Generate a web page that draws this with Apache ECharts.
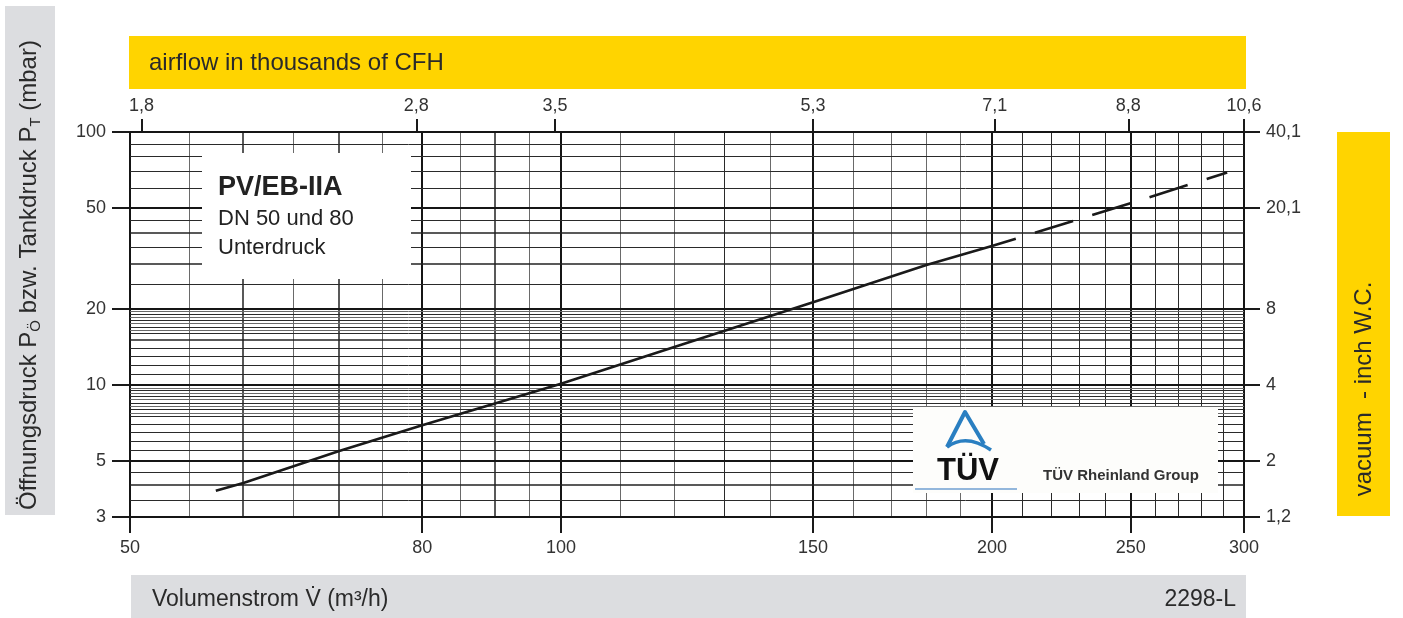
<!DOCTYPE html>
<html>
<head>
<meta charset="utf-8">
<title>PV/EB-IIA Unterdruck</title>
<script src="https://cdn.jsdelivr.net/npm/echarts@6.0.0/dist/echarts.min.js"></script>
<style>
    html, body { margin: 0; padding: 0; background: #fff; }
    #chart { width: 1403px; height: 618px; }
</style>
</head>
<body>
<div id="chart"></div>
<script>
// Kennlinie: Volumenstrom (m³/h) -> Öffnungsdruck (mbar)
var curveSolid = [[57.4, 3.81], [60, 4.09], [70, 5.47], [80, 6.92], [100, 10.1], [120, 14.1], [150, 21.2], [180, 29.8], [200, 35.4]];
var curveDashed = [[200, 35.4], [250, 52.3], [292, 69.2]];

// Achsbeschriftungen
var flowTicks = [50, 80, 100, 150, 200, 250, 300];
var pressureTicks = [3, 5, 10, 20, 50, 100];
var cfhTicks = [1.8, 2.8, 3.5, 5.3, 7.1, 8.8, 10.6];
var inchTicks = [1.2, 2, 4, 8, 20.1, 40.1];

// Raster (Logpapier)
var flowGrid = [50, 55, 60, 65, 70, 75, 80, 85, 90, 95, 100, 110, 120, 130, 140, 150, 160, 170, 180, 190,
    200, 210, 220, 230, 240, 250, 260, 270, 280, 290, 300];
var flowGridMid = [60, 70, 90];
var flowGridFine = [55, 65, 75, 85, 95, 110, 120, 140, 160, 170, 180, 190];
var pressureGrid = [3, 3.5, 4, 4.5, 5, 5.5, 6, 6.5, 7, 7.5, 7.75, 8, 8.25, 8.5, 8.75, 9, 9.25, 9.5, 9.75,
    10, 11, 12, 13, 14, 15, 16, 16.5, 17, 17.5, 18, 18.5, 19, 19.5, 20, 25, 30, 35, 40, 45, 50, 60, 70, 80, 90, 100];
var pressureGridMid = [4, 15, 30, 40];
var pressureGridFine = [7.75, 8.25, 8.75, 9.25, 9.75, 16.5, 17.5, 18.5, 19.5];

var FONT = '"Liberation Sans", Arial, Helvetica, sans-serif';
var INK = '#1a1a1a';

var myChart = echarts.init(document.getElementById('chart'));

function comma(v) {
    return String(Math.round(v * 10) / 10).replace('.', ',');
}

function lineWeight(v, major, mid, fine) {
    if (major.indexOf(v) >= 0) return {w: 2, c: '#151515'};
    if (mid.indexOf(v) >= 0) return {w: 1.5, c: '#222'};
    if (fine && fine.indexOf(v) >= 0) return {w: 1, c: '#6a6a6a'};
    return {w: 1, c: '#2a2a2a'};
}

function crisp(p, w) {
    return w % 2 === 1 ? Math.round(p) + 0.5 : Math.round(p);
}

function renderVertical(params, api) {
    var v = api.value(0);
    var a = api.coord([v, 3]);
    var b = api.coord([v, 100]);
    var s = lineWeight(v, flowTicks, flowGridMid, flowGridFine);
    var x = crisp(a[0], s.w);
    return {
        type: 'line',
        shape: {x1: x, y1: a[1], x2: x, y2: b[1]},
        style: {stroke: s.c, lineWidth: s.w}
    };
}

function renderHorizontal(params, api) {
    var p = api.value(1);
    var a = api.coord([50, p]);
    var b = api.coord([300, p]);
    var s = lineWeight(p, pressureTicks, pressureGridMid, pressureGridFine);
    var y = crisp(a[1], s.w);
    return {
        type: 'line',
        shape: {x1: a[0], y1: y, x2: b[0], y2: y},
        style: {stroke: s.c, lineWidth: s.w}
    };
}

function logAxis(o) {
    return {
        type: 'log',
        logBase: 10,
        min: o.min,
        max: o.max,
        position: o.position,
        axisLine: {show: true, onZero: false, lineStyle: {color: INK, width: 2}},
        axisTick: {show: true, customValues: o.ticks, length: o.tickLen, lineStyle: {color: INK, width: 2}},
        axisLabel: {
            customValues: o.ticks,
            margin: o.margin,
            fontSize: 18,
            fontFamily: FONT,
            color: '#333',
            formatter: comma
        },
        splitLine: {show: false},
        minorTick: {show: false},
        minorSplitLine: {show: false}
    };
}

var option = {
    backgroundColor: '#fff',
    animation: false,
    grid: {left: 130, right: 159, top: 132, bottom: 101, containLabel: false, outerBoundsMode: 'none'},
    xAxis: [
        logAxis({min: 50, max: 300, position: 'bottom', ticks: flowTicks, tickLen: 16, margin: 22}),
        logAxis({min: 10.6 / 6, max: 10.6, position: 'top', ticks: cfhTicks, tickLen: 13, margin: 17})
    ],
    yAxis: [
        logAxis({min: 3, max: 100, position: 'left', ticks: pressureTicks, tickLen: 18, margin: 24}),
        logAxis({min: 1.2, max: 40.1, position: 'right', ticks: inchTicks, tickLen: 16, margin: 22})
    ],
    series: [
        {
            type: 'custom',
            xAxisIndex: 0,
            yAxisIndex: 0,
            z: 1,
            silent: true,
            renderItem: renderVertical,
            data: flowGrid.map(function (v) { return [v, 3]; })
        },
        {
            type: 'custom',
            xAxisIndex: 0,
            yAxisIndex: 0,
            z: 1,
            silent: true,
            renderItem: renderHorizontal,
            data: pressureGrid.map(function (p) { return [50, p]; })
        },
        {
            name: 'PV/EB-IIA',
            type: 'line',
            xAxisIndex: 0,
            yAxisIndex: 0,
            z: 3,
            showSymbol: false,
            lineStyle: {color: INK, width: 2.6},
            data: curveSolid
        },
        {
            name: 'PV/EB-IIA (extrapoliert)',
            type: 'line',
            xAxisIndex: 0,
            yAxisIndex: 0,
            z: 3,
            showSymbol: false,
            lineStyle: {color: INK, width: 2.6, type: [40, 20], dashOffset: 15},
            data: curveDashed
        }
    ],
    graphic: [
        // linke Achsbeschriftung
        {type: 'rect', z: 10, silent: true, shape: {x: 5, y: 6, width: 50, height: 509}, style: {fill: '#dcdde0'}},
        {
            type: 'text', z: 11, silent: true, x: 29, y: 275, rotation: Math.PI / 2,
            style: {
                text: 'Öffnungsdruck P{s|Ö} bzw. Tankdruck P{s|T} (mbar)',
                font: '24px ' + FONT, fill: '#2a2a2a', align: 'center', verticalAlign: 'middle', lineHeight: 29,
                rich: {s: {fontSize: 15, fontFamily: FONT, fill: '#2a2a2a', lineHeight: 15, verticalAlign: 'bottom'}}
            }
        },
        // oben: CFH
        {type: 'rect', z: 10, silent: true, shape: {x: 129, y: 36, width: 1117, height: 53}, style: {fill: '#ffd400'}},
        {
            type: 'text', z: 11, silent: true, x: 149, y: 63,
            style: {text: 'airflow in thousands of CFH', font: '24px ' + FONT, fill: '#2a2a2a', verticalAlign: 'middle'}
        },
        // rechts: inch W.C.
        {type: 'rect', z: 10, silent: true, shape: {x: 1337, y: 132, width: 53, height: 384}, style: {fill: '#ffd400'}},
        {
            type: 'text', z: 11, silent: true, x: 1364, y: 389, rotation: Math.PI / 2,
            style: {text: 'vacuum  - inch W.C.', font: '24px ' + FONT, fill: '#2a2a2a', align: 'center', verticalAlign: 'middle'}
        },
        // unten: Volumenstrom
        {type: 'rect', z: 10, silent: true, shape: {x: 131, y: 575, width: 1115, height: 43}, style: {fill: '#dcdde0'}},
        {
            type: 'text', z: 11, silent: true, x: 152, y: 600,
            style: {text: 'Volumenstrom V\u0307 (m³/h)', font: '23px ' + FONT, fill: '#2a2a2a', verticalAlign: 'middle'}
        },
        {
            type: 'text', z: 11, silent: true, x: 1236, y: 600,
            style: {text: '2298-L', font: '23px ' + FONT, fill: '#2a2a2a', align: 'right', verticalAlign: 'middle'}
        },
        // Typenfeld
        {type: 'rect', z: 10, silent: true, shape: {x: 202, y: 153, width: 209, height: 126}, style: {fill: '#fff'}},
        {
            type: 'text', z: 11, silent: true, x: 218, y: 188,
            style: {text: 'PV/EB-IIA', font: 'bold 27px ' + FONT, fill: '#222', verticalAlign: 'middle'}
        },
        {
            type: 'text', z: 11, silent: true, x: 218, y: 219,
            style: {text: 'DN 50 und 80', font: '22px ' + FONT, fill: '#222', verticalAlign: 'middle'}
        },
        {
            type: 'text', z: 11, silent: true, x: 218, y: 248,
            style: {text: 'Unterdruck', font: '22px ' + FONT, fill: '#222', verticalAlign: 'middle'}
        },
        // TÜV Feld
        {type: 'rect', z: 10, silent: true, shape: {x: 913, y: 407, width: 305, height: 86}, style: {fill: '#fdfdfb'}},
        {
            type: 'polyline', z: 11, silent: true,
            shape: {points: [[947, 447], [965, 412], [984, 444]]},
            style: {stroke: '#2a7fc1', lineWidth: 4, fill: null, lineJoin: 'round'}
        },
        {
            type: 'bezierCurve', z: 11, silent: true,
            shape: {x1: 947, y1: 447, x2: 991, y2: 450, cpx1: 966, cpy1: 433},
            style: {stroke: '#2a7fc1', lineWidth: 3.5, fill: null}
        },
        {
            type: 'text', z: 11, silent: true, x: 937, y: 471,
            style: {text: 'TÜV', font: 'bold 31px ' + FONT, fill: '#111', verticalAlign: 'middle'}
        },
        {
            type: 'line', z: 11, silent: true,
            shape: {x1: 915, y1: 489, x2: 1017, y2: 489},
            style: {stroke: '#6f9fd2', lineWidth: 1.5}
        },
        {
            type: 'text', z: 11, silent: true, x: 1043, y: 476,
            style: {text: 'TÜV Rheinland Group', font: 'bold 15px ' + FONT, fill: '#333', verticalAlign: 'middle'}
        }
    ]
};

myChart.setOption(option);

window.onresize = function () {
    myChart.resize();
};
</script>
</body>
</html>
